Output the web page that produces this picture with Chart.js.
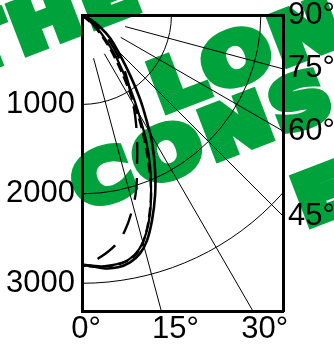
<!DOCTYPE html>
<html>
<head>
<meta charset="utf-8">
<script src="https://cdn.jsdelivr.net/npm/chart.js@4.4.1/dist/chart.umd.min.js"></script>
<style>
  html, body { margin: 0; padding: 0; background: #fff; }
</style>
</head>
<body>
<canvas id="chart" width="334" height="347"></canvas>
<script>
// ---- data (horizontal distance / depth, same units on both axes) ----
const xMax = 2250;
const yMax = 3310;

const depthTicks = [1000, 2000, 3000];
const bottomTickPos = [0, 1000, 2000];
const bottomTickLabels = ["0°", "15°", "30°"];
const rightTickAngles = [90, 75, 60, 45];
const rightTickLabels = ["90°", "75°", "60°", "45°"];

const ringDepths = [1000, 2000, 3000];
const spokeAngles = [15, 30, 45, 60, 75];
const spokeStart = 500;

// ray paths, solid
const ray1X = [0, 90, 202, 314, 426, 538, 650, 728, 784, 818, 818, 784, 728, 650, 538, 403, 258, 123, 0];
const ray1Y = [0, 45, 134, 258, 448, 672, 941, 1198, 1422, 1736, 2016, 2296, 2520, 2666, 2766, 2822, 2834, 2811, 2789];
const ray2X = [0, 67, 168, 269, 370, 470, 571, 650, 717, 762, 773, 762, 717, 638, 526, 381, 224, 90, 0];
const ray2Y = [0, 45, 146, 280, 448, 661, 907, 1154, 1400, 1680, 1960, 2218, 2442, 2621, 2733, 2789, 2811, 2800, 2800];
// ray paths, dashed
const ray3X = [0, 134, 269, 381, 482, 571, 650, 706, 750, 773, 750, 706, 638, 538, 403, 246, 90, 0];
const ray3Y = [0, 123, 302, 504, 728, 963, 1198, 1434, 1702, 1982, 2262, 2475, 2632, 2733, 2789, 2811, 2811, 2800];
const ray4X = [0, 179, 314, 414, 493, 549, 594, 616, 616, 605, 560, 482, 370, 202, 34, 0];
const ray4Y = [0, 146, 302, 482, 672, 896, 1120, 1400, 1680, 1960, 2184, 2408, 2576, 2710, 2800, 2811];

const stampWords = ["THE", "LONG", "CONS", "E"];

////////////////////////////////////////////////////////////////////////////////////

const toPts = (xs, ys) => xs.map((v, i) => ({x: v, y: ys[i]}));
const tickFont = {family: "'Liberation Sans', Arial, sans-serif", size: 31, lineHeight: 1.2};

const stamp = {
    id: "stamp",
    beforeDraw(chart) {
        const ctx = chart.ctx;
        const spots = [[-35, 76], [162, 112], [83, 210], [306, 226]];
        ctx.save();
        ctx.fillStyle = "#00a23c";
        ctx.strokeStyle = "#00a23c";
        ctx.lineWidth = 9;
        ctx.lineJoin = "miter";
        ctx.font = "bold 67px 'DejaVu Sans'";
        ctx.letterSpacing = "5px";
        ctx.textBaseline = "alphabetic";
        stampWords.forEach((w, i) => {
            ctx.save();
            ctx.translate(spots[i][0], spots[i][1]);
            ctx.rotate(-21 * Math.PI / 180);
            ctx.scale(1.2, 1);
            ctx.fillText(w, 0, 0);
            ctx.strokeText(w, 0, 0);
            ctx.restore();
        });
        ctx.restore();
    }
};

const polarGrid = {
    id: "polarGrid",
    beforeDatasetsDraw(chart) {
        const {ctx, chartArea: a, scales: {x, y}} = chart;
        const cx = x.getPixelForValue(0);
        const cy = y.getPixelForValue(0);
        const k = (y.getPixelForValue(1000) - cy) / 1000;
        ctx.save();
        ctx.beginPath();
        ctx.rect(a.left, a.top, a.right - a.left, a.bottom - a.top);
        ctx.clip();
        ctx.strokeStyle = "#000";
        ctx.lineWidth = 1;
        ringDepths.forEach(r => {
            ctx.beginPath();
            ctx.arc(cx, cy, r * k, 0, Math.PI / 2);
            ctx.stroke();
        });
        spokeAngles.forEach(deg => {
            const t = deg * Math.PI / 180;
            ctx.beginPath();
            ctx.moveTo(cx + Math.sin(t) * spokeStart * k, cy + Math.cos(t) * spokeStart * k);
            ctx.lineTo(cx + Math.sin(t) * 6000 * k, cy + Math.cos(t) * 6000 * k);
            ctx.stroke();
        });
        ctx.restore();
    }
};

const solid = {showLine: true, pointRadius: 0, borderColor: "#000", borderWidth: 2.6, tension: 0.4, fill: false};
const noPadX = s => { s.paddingLeft = 0; s.paddingRight = 0; };
const noPadY = s => { s.paddingTop = 0; s.paddingBottom = 0; };

new Chart(document.querySelector("#chart"), {
    type: "scatter",
    data: {
        datasets: [
            {...solid, data: toPts(ray1X, ray1Y)},
            {...solid, data: toPts(ray2X, ray2Y), borderWidth: 2.2},
            {...solid, data: toPts(ray3X, ray3Y), borderWidth: 2.4, borderDash: [10, 5]},
            {...solid, data: toPts(ray4X, ray4Y), borderWidth: 2.4, borderDash: [22, 14]}
        ]
    },
    options: {
        responsive: false,
        animation: false,
        layout: {padding: 0},
        plugins: {legend: {display: false}, tooltip: {enabled: false}},
        scales: {
            x: {
                type: "linear", position: "bottom", min: 0, max: xMax,
                afterBuildTicks: s => { s.ticks = bottomTickPos.map(v => ({value: v})); },
                afterFit: s => { s.height = 36; noPadX(s); },
                ticks: {callback: (v, i) => bottomTickLabels[i], font: tickFont, color: "#000",
                        padding: 0, labelOffset: 4, maxRotation: 0, autoSkip: false},
                grid: {display: false, drawTicks: false},
                border: {display: true, width: 3, color: "#000"}
            },
            xTop: {
                type: "linear", position: "top", min: 0, max: xMax,
                afterFit: s => { s.height = 15; noPadX(s); },
                ticks: {display: false},
                grid: {display: false, drawTicks: false},
                border: {display: true, width: 3, color: "#000"}
            },
            y: {
                type: "linear", position: "left", reverse: true, min: 0, max: yMax,
                afterBuildTicks: s => { s.ticks = depthTicks.map(v => ({value: v})); },
                afterFit: s => { s.width = 82; noPadY(s); },
                ticks: {callback: v => String(v), font: tickFont, color: "#000", padding: 7, autoSkip: false},
                grid: {display: false, drawTicks: false},
                border: {display: true, width: 3, color: "#000"}
            },
            yRight: {
                type: "linear", position: "right", reverse: true, min: 0, max: yMax,
                afterBuildTicks: s => {
                    s.ticks = rightTickAngles.map(a => ({value: xMax / Math.tan(a * Math.PI / 180)}));
                },
                afterFit: s => { s.width = 51; noPadY(s); },
                ticks: {callback: (v, i) => rightTickLabels[i], font: tickFont, color: "#000",
                        padding: 5, autoSkip: false},
                grid: {display: false, drawTicks: false},
                border: {display: true, width: 3, color: "#000"}
            }
        }
    },
    plugins: [stamp, polarGrid]
});
</script>
</body>
</html>
